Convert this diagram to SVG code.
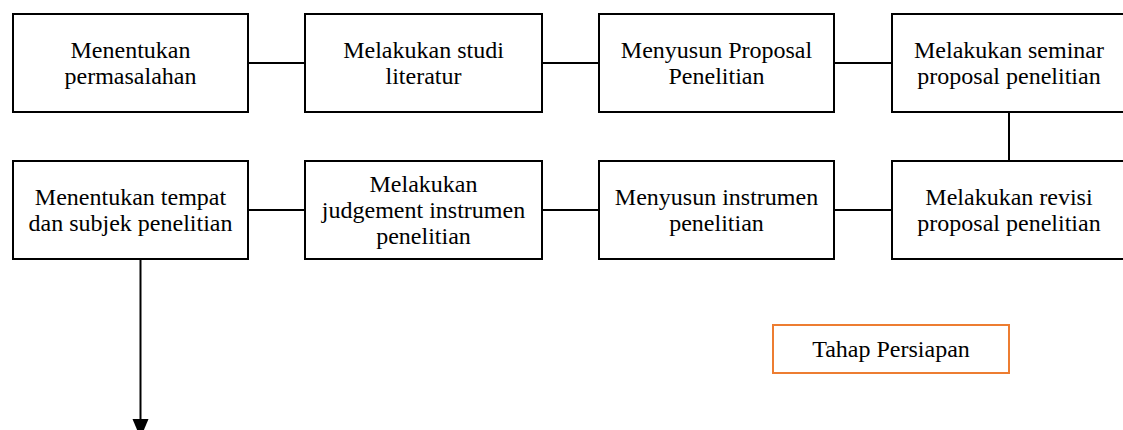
<svg xmlns="http://www.w3.org/2000/svg" width="1123" height="430" viewBox="0 0 1123 430">
<defs>
<style>
.box{fill:#fff;stroke:#000;stroke-width:2}
.leg{fill:#fff;stroke:#ED7D31;stroke-width:2}
.t{font-family:"Liberation Serif","Times New Roman",serif;font-size:24px;fill:#000;text-anchor:middle}
.c{stroke:#000;stroke-width:2;fill:none}
</style>
</defs>
<rect width="1123" height="430" fill="#fff"/>
<g id="connectors">
<line class="c" x1="248" y1="63" x2="305" y2="63"/>
<line class="c" x1="542" y1="63" x2="599" y2="63"/>
<line class="c" x1="834" y1="63" x2="892" y2="63"/>
<line class="c" x1="1009" y1="112" x2="1009" y2="161"/>
<line class="c" x1="834" y1="210" x2="892" y2="210"/>
<line class="c" x1="542" y1="210" x2="599" y2="210"/>
<line class="c" x1="248" y1="210" x2="305" y2="210"/>
<line class="c" x1="140.5" y1="256" x2="140.5" y2="420"/>
<polygon points="132.5,419 148.5,419 140.5,438" fill="#000"/>
</g>
<g id="n1">
<rect class="box" x="13" y="14" width="235" height="98"/>
<text class="t" x="130.5" y="58">Menentukan</text>
<text class="t" x="130.5" y="84">permasalahan</text>
</g>
<g id="n2">
<rect class="box" x="305" y="14" width="237" height="98"/>
<text class="t" x="423.5" y="58">Melakukan studi</text>
<text class="t" x="423.5" y="84">literatur</text>
</g>
<g id="n3">
<rect class="box" x="599" y="14" width="235" height="98"/>
<text class="t" x="716.5" y="58">Menyusun Proposal</text>
<text class="t" x="716.5" y="84">Penelitian</text>
</g>
<g id="n4">
<rect class="box" x="892" y="14" width="234" height="98"/>
<text class="t" x="1009" y="58">Melakukan seminar</text>
<text class="t" x="1009" y="84">proposal penelitian</text>
</g>
<g id="n5">
<rect class="box" x="892" y="161" width="234" height="98"/>
<text class="t" x="1009" y="205">Melakukan revisi</text>
<text class="t" x="1009" y="231">proposal penelitian</text>
</g>
<g id="n6">
<rect class="box" x="599" y="161" width="235" height="98"/>
<text class="t" x="716.5" y="205">Menyusun instrumen</text>
<text class="t" x="716.5" y="231">penelitian</text>
</g>
<g id="n7">
<rect class="box" x="305" y="161" width="237" height="98"/>
<text class="t" x="423.5" y="192">Melakukan</text>
<text class="t" x="423.5" y="218">judgement instrumen</text>
<text class="t" x="423.5" y="244">penelitian</text>
</g>
<g id="n8">
<rect class="box" x="13" y="161" width="235" height="98"/>
<text class="t" x="130.5" y="205">Menentukan tempat</text>
<text class="t" x="130.5" y="231">dan subjek penelitian</text>
</g>
<g id="legend">
<rect class="leg" x="773" y="325" width="236" height="48"/>
<text class="t" x="891" y="357">Tahap Persiapan</text>
</g>
</svg>
